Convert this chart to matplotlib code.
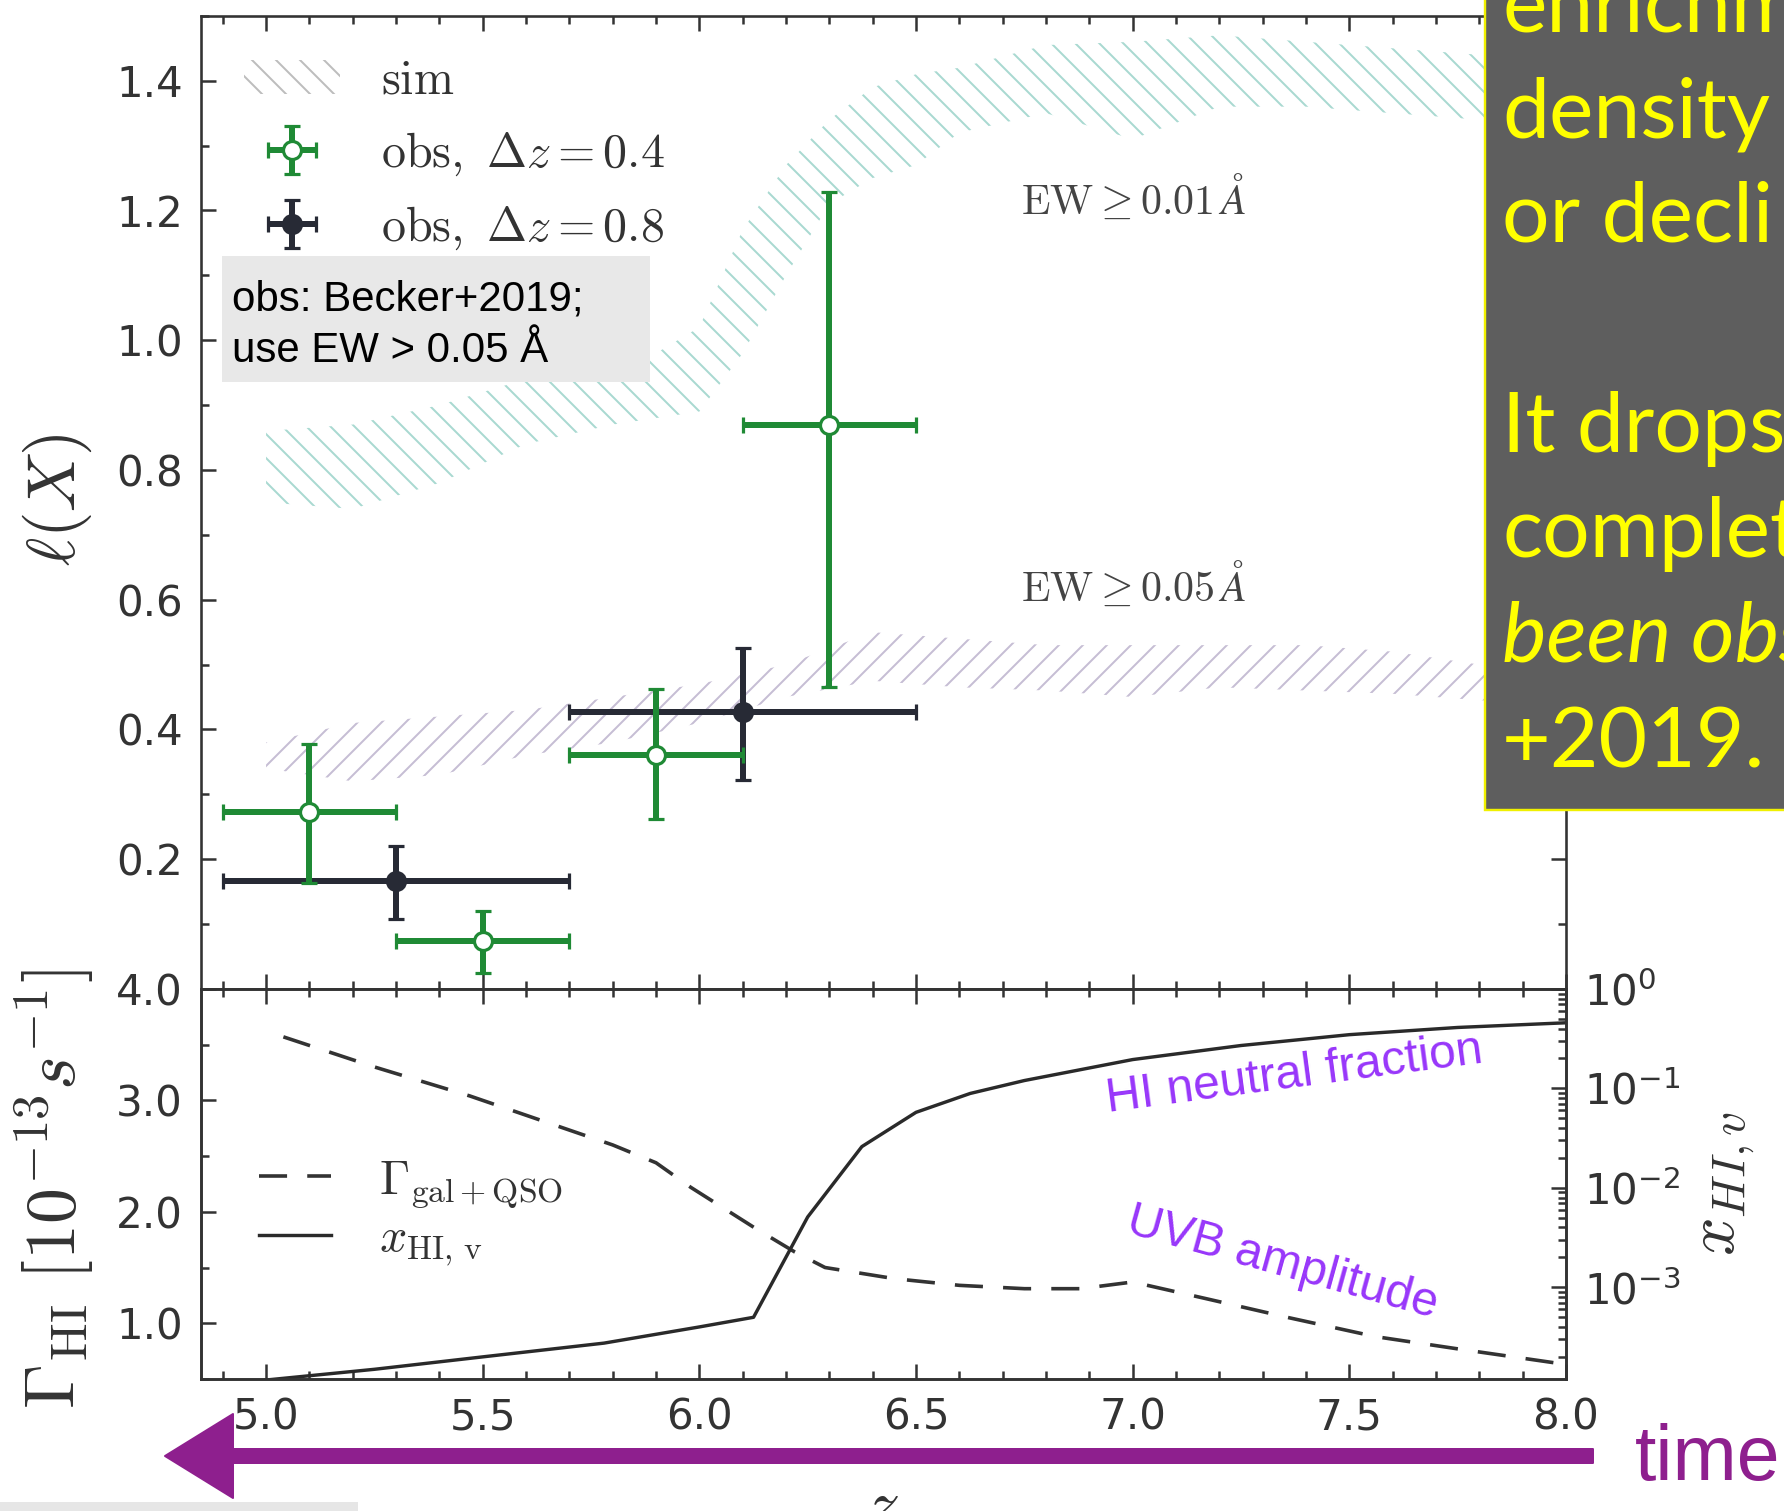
import matplotlib
matplotlib.use('Agg')
import matplotlib.pyplot as plt
import numpy as np
from matplotlib.patches import Rectangle, Patch, FancyArrowPatch
from matplotlib.ticker import MultipleLocator, FormatStrFormatter, LogLocator, NullFormatter

# ---------------- data ----------------
# simulated l(X), EW >= 0.01 A band
sim01_z = [5.0, 5.2, 5.4, 5.6, 5.8, 5.9, 6.0, 6.1, 6.2, 6.3, 6.4, 6.5, 6.6, 6.8, 7.0, 7.2, 7.4, 7.6, 7.8, 8.0]
sim01_lo = [0.75, 0.74, 0.78, 0.84, 0.87, 0.88, 0.89, 0.98, 1.10, 1.21, 1.25, 1.27, 1.32, 1.35, 1.31, 1.36, 1.36, 1.35, 1.34, 1.34]
sim01_hi = [0.86, 0.87, 0.90, 0.94, 0.96, 0.98, 1.02, 1.17, 1.27, 1.34, 1.39, 1.41, 1.42, 1.455, 1.46, 1.47, 1.46, 1.45, 1.44, 1.44]
# simulated l(X), EW >= 0.05 A band
sim05_z = [5.0, 5.2, 5.4, 5.6, 5.8, 6.0, 6.2, 6.4, 6.6, 6.8, 7.0, 7.2, 7.4, 7.6, 7.8, 8.0]
sim05_lo = [0.34, 0.32, 0.33, 0.36, 0.38, 0.41, 0.45, 0.475, 0.465, 0.46, 0.45, 0.465, 0.46, 0.455, 0.445, 0.44]
sim05_hi = [0.38, 0.41, 0.42, 0.43, 0.45, 0.47, 0.50, 0.55, 0.54, 0.53, 0.53, 0.53, 0.53, 0.52, 0.50, 0.50]

# observations (Becker+2019)
obs04_z = [5.1, 5.5, 5.9, 6.3]
obs04_dz = [0.2, 0.2, 0.2, 0.2]
obs04_l = [0.272, 0.074, 0.361, 0.870]
obs04_lo = [0.163, 0.025, 0.262, 0.466]
obs04_hi = [0.377, 0.120, 0.462, 1.228]

obs08_z = [5.3, 6.1]
obs08_dz = [0.4, 0.4]
obs08_l = [0.167, 0.427]
obs08_lo = [0.108, 0.322]
obs08_hi = [0.221, 0.526]

# photoionisation rate [1e-13 s^-1]
gam_z = [5.04, 5.25, 5.47, 5.65, 5.80, 5.90, 5.98, 6.13, 6.22, 6.29, 6.45, 6.6, 6.75, 6.88, 7.0, 7.17, 7.36, 7.56, 7.75, 8.0]
gam = [3.57, 3.30, 3.04, 2.80, 2.60, 2.44, 2.22, 1.85, 1.64, 1.50, 1.40, 1.34, 1.31, 1.31, 1.37, 1.22, 1.05, 0.88, 0.77, 0.63]

# volume weighted neutral fraction
xhi_z = [5.0, 5.25, 5.5, 5.78, 6.0, 6.125, 6.25, 6.375, 6.5, 6.625, 6.75, 7.0, 7.25, 7.5, 7.75, 8.0]
xhi = [1.17e-4, 1.5e-4, 2.0e-4, 2.75e-4, 4.0e-4, 5.0e-4, 5.1e-3, 0.026, 0.0575, 0.089, 0.12, 0.195, 0.27, 0.347, 0.41, 0.457]

ytick_top = [0.2, 0.4, 0.6, 0.8, 1.0, 1.2, 1.4]
ytick_gam = [1.0, 2.0, 3.0, 4.0]
xtick_z = [5.0, 5.5, 6.0, 6.5, 7.0, 7.5, 8.0]

note_lines = ['enrichm', 'density', 'or decli', '', 'It drops', 'complet', 'been obs', '+2019.']

# ---------------- style ----------------
W, H, DPI = 1784, 1511, 144
plt.rcParams.update({
    'font.family': ['DejaVu Sans'],
    'mathtext.fontset': 'cm',
    'axes.unicode_minus': False,
    'hatch.linewidth': 1.0,
    'axes.linewidth': 1.3,
    'axes.edgecolor': '#333333',
})
ink = '#333333'
green = '#1f8a35'
dark = '#272a35'
purple = '#8e1f8e'
violet = '#9836fa'

fig = plt.figure(figsize=(W / DPI, H / DPI), dpi=DPI)
fig.patch.set_facecolor('white')


def fx(px):
    return px / W


def fy(py):
    return 1 - py / H


ax1 = fig.add_axes([0.1127, 0.3455, 0.7651, 0.6440])
ax2 = fig.add_axes([0.1127, 0.0874, 0.7651, 0.2581])
ax3 = ax2.twinx()

# ---- top panel ----
ax1.fill_between(sim01_z, sim01_lo, sim01_hi, facecolor='none', edgecolor='#a9d9d1',
                 hatch='\\\\', linewidth=0, zorder=1)
ax1.fill_between(sim05_z, sim05_lo, sim05_hi, facecolor='none', edgecolor='#c6bed4',
                 hatch='//', linewidth=0, zorder=1)

o4 = np.array(obs04_l)
o8 = np.array(obs08_l)
e1 = ax1.errorbar(obs04_z, obs04_l, xerr=obs04_dz,
                  yerr=[o4 - np.array(obs04_lo), np.array(obs04_hi) - o4],
                  fmt='o', color=green, mfc='white', mec=green, ms=9, mew=1.6,
                  elinewidth=3.0, capsize=4, capthick=1.8, zorder=4)
e2 = ax1.errorbar(obs08_z, obs08_l, xerr=obs08_dz,
                  yerr=[o8 - np.array(obs08_lo), np.array(obs08_hi) - o8],
                  fmt='o', color=dark, mfc=dark, mec=dark, ms=9, mew=1.6,
                  elinewidth=3.0, capsize=4, capthick=1.8, zorder=3)

ax1.set_xlim(4.85, 8.0)
ax1.set_ylim(0, 1.5)
ax1.set_xticks(xtick_z)
ax1.xaxis.set_minor_locator(MultipleLocator(0.1))
ax1.set_yticks(ytick_top)
ax1.yaxis.set_minor_locator(MultipleLocator(0.1))
ax1.yaxis.set_major_formatter(FormatStrFormatter('%.1f'))
ax1.tick_params(labelbottom=False)

ax1.text(6.742, 1.195, r'$\mathrm{EW}\geq 0.01\,\AA$', fontsize=21, color='#444444', va='baseline')
ax1.text(6.742, 0.598, r'$\mathrm{EW}\geq 0.05\,\AA$', fontsize=21, color='#444444', va='baseline')

sim_h = Patch(facecolor='none', edgecolor='#bdbdbd', hatch='\\\\', linewidth=0)
ax1.legend([sim_h, e1, e2],
           [r'$\mathrm{sim}$', r'$\mathrm{obs,}\ \Delta z=0.4$', r'$\mathrm{obs,}\ \Delta z=0.8$'],
           loc='upper left', bbox_to_anchor=(0.0317, 0.958), frameon=False, fontsize=24,
           handlelength=2.0, handletextpad=0.85, labelspacing=0.54, borderpad=0,
           borderaxespad=0, labelcolor=ink)

# ---- bottom panel ----
l1, = ax2.plot(gam_z, gam, color=ink, lw=1.8, linestyle=(0, (7.8, 5.6)))
l2, = ax3.plot(xhi_z, xhi, color='#2a2a2a', lw=1.7)
ax3.set_yscale('log')

ax2.set_xlim(4.85, 8.0)
ax2.set_ylim(0.5, 4.0)
ax2.set_xticks(xtick_z)
ax2.xaxis.set_minor_locator(MultipleLocator(0.1))
ax2.xaxis.set_major_formatter(FormatStrFormatter('%.1f'))
ax2.set_yticks(ytick_gam)
ax2.yaxis.set_minor_locator(MultipleLocator(0.5))
ax2.yaxis.set_major_formatter(FormatStrFormatter('%.1f'))

ax3.set_ylim(1.2e-4, 1.0)
ax3.yaxis.set_major_locator(LogLocator(base=10, numticks=10))
ax3.yaxis.set_minor_locator(LogLocator(base=10, subs=np.arange(2, 10), numticks=10))
ax3.yaxis.set_minor_formatter(NullFormatter())

ax3.legend([l1, l2], [r'$\Gamma_{\rm gal+QSO}$', r'$x_{\rm HI,\,v}$'],
           loc='upper left', bbox_to_anchor=(0.0425, 0.573), frameon=False, fontsize=24,
           handlelength=1.5, handletextpad=1.0, labelspacing=0.12, borderpad=0,
           borderaxespad=0, labelcolor=ink)

for ax in (ax1, ax2, ax3):
    ax.tick_params(which='both', direction='in', width=1.25, color=ink,
                   labelsize=21, labelcolor=ink, pad=9)
    ax.tick_params(which='major', length=7.5)
    ax.tick_params(which='minor', length=4)
    for s in ax.spines.values():
        s.set_color(ink)
        s.set_linewidth(1.3)
ax1.tick_params(which='both', top=True, right=True)
ax2.tick_params(which='both', top=True, right=False)
ax3.tick_params(which='both', left=False, right=True)

# axis labels
fig.text(fx(57), fy(500), r'$\ell(X)$', rotation=90, ha='center', va='center', fontsize=34, color=ink)
fig.text(fx(55), fy(1189), r'$\Gamma_{\rm HI}\ [10^{-13} s^{-1}]$', rotation=90,
         ha='center', va='center', fontsize=36, color=ink)
fig.text(fx(1724), fy(1183), r'$x_{HI,v}$', rotation=90, ha='center', va='center', fontsize=34, color=ink)
fig.text(fx(882), fy(1474), r'$z$', ha='center', va='top', fontsize=34, color=ink)

# slide annotations
fig.text(fx(1294), fy(1075), 'HI neutral fraction', rotation=7.5, rotation_mode='anchor',
         ha='center', va='center', fontsize=24, color=violet, family='Liberation Sans')
fig.text(fx(1282), fy(1263), 'UVB amplitude', rotation=-15.5, rotation_mode='anchor',
         ha='center', va='center', fontsize=24, color=violet, family='Liberation Sans')

fig.add_artist(Rectangle((fx(222), fy(382)), fx(650) - fx(222), fy(256) - fy(382),
                         transform=fig.transFigure, facecolor='#e8e8e8', edgecolor='none', zorder=5))
fig.text(fx(232), fy(310), 'obs: Becker+2019;', fontsize=21, family='Liberation Sans',
         color='black', va='baseline', zorder=6)
fig.text(fx(232), fy(362), 'use EW > 0.05 Å', fontsize=21, family='Liberation Sans',
         color='black', va='baseline', zorder=6)

fig.add_artist(Rectangle((fx(1485), fy(810)), 0.3, 0.7, transform=fig.transFigure,
                         facecolor='#5e5e5e', edgecolor='#f0f000', linewidth=1.2, zorder=5))
base = 32
for i, line in enumerate(note_lines):
    fig.text(fx(1502), fy(base + 105 * i), line, fontsize=42, family='Lato', color='#ffff00',
             va='baseline', style='italic' if line.startswith('been') else 'normal', zorder=6)

fig.add_artist(FancyArrowPatch((fx(1593), fy(1456)), (fx(165), fy(1456)), transform=fig.transFigure,
                               arrowstyle='simple,head_length=34,head_width=42,tail_width=7',
                               mutation_scale=1, shrinkA=0, shrinkB=0, color=purple, zorder=5))
fig.text(fx(1635), fy(1480), 'time', fontsize=38.5, family='Liberation Sans', color=purple, va='baseline')

# thin grey strip along the bottom-left edge of the slide
fig.add_artist(Rectangle((0, 0), fx(358), fy(1502), transform=fig.transFigure,
                         facecolor='#e6e6e6', edgecolor='none', zorder=5))

fig.savefig('out.png', dpi=DPI, facecolor='white')
